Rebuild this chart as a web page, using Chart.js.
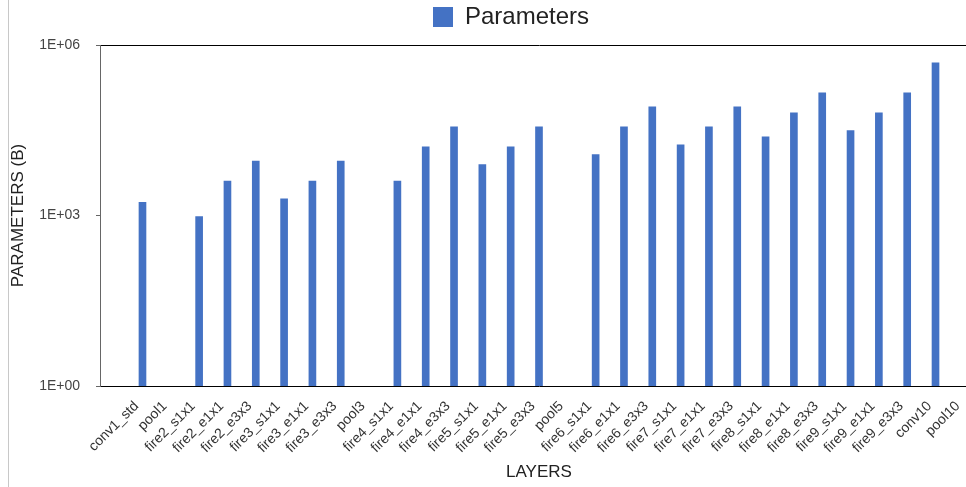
<!DOCTYPE html>
<html>
<head>
<meta charset="utf-8">
<script src="https://cdn.jsdelivr.net/npm/chart.js@4"></script>
<style>
  html, body { margin: 0; padding: 0; background: #fff; overflow: hidden; width: 966px; height: 487px; }
  #wrap { position: absolute; left: 0; top: 0; width: 1022px; height: 487px; }
  #frame { position: absolute; left: 8px; top: 0; width: 1px; height: 487px; background: #c8c8c8; }
</style>
</head>
<body>
<div id="wrap"><canvas id="c" width="1022" height="487"></canvas></div>
<div id="frame"></div>
<script>
const categories = ["", "conv1_std", "pool1", "fire2_s1x1", "fire2_e1x1", "fire2_e3x3",
  "fire3_s1x1", "fire3_e1x1", "fire3_e3x3", "pool3", "fire4_s1x1", "fire4_e1x1", "fire4_e3x3",
  "fire5_s1x1", "fire5_e1x1", "fire5_e3x3", "pool5", "fire6_s1x1", "fire6_e1x1", "fire6_e3x3",
  "fire7_s1x1", "fire7_e1x1", "fire7_e3x3", "fire8_s1x1", "fire8_e1x1", "fire8_e3x3",
  "fire9_s1x1", "fire9_e1x1", "fire9_e3x3", "conv10", "pool10"];
const parameters = [null, 1700, null, 960, 4050, 9100,
  1970, 4050, 9100, null, 4050, 16100, 36300,
  7850, 16100, 36300, null, 11800, 36300, 82000,
  17600, 36300, 82000, 24200, 64000, 144000,
  31200, 64000, 144000, 486000, null];
const yTickValues = [1, 1000, 1000000];
const yTickLabels = ["1E+00", "1E+03", "1E+06"];

const FONT = "'Liberation Sans', Arial, sans-serif";

const legendGap = {
  id: 'legendGap',
  beforeInit(chart) {
    const lg = chart.legend;
    if (!lg) return;
    const orig = lg.fit;
    lg.fit = function () { orig.call(this); this.height += 6; };
  }
};

new Chart(document.getElementById('c'), {
  type: 'bar',
  data: {
    labels: categories,
    datasets: [{
      label: 'Parameters',
      data: parameters,
      backgroundColor: '#4472C4',
      borderWidth: 0,
      barThickness: 7
    }]
  },
  plugins: [legendGap],
  options: {
    responsive: false,
    animation: false,
    layout: { padding: 0 },
    plugins: {
      legend: {
        position: 'top',
        labels: {
          boxWidth: 20, boxHeight: 20, padding: 5,
          color: '#222',
          font: { family: FONT, size: 24 }
        }
      },
      tooltip: { enabled: false }
    },
    scales: {
      x: {
        type: 'category',
        grid: { display: false },
        border: { display: true, color: '#000', width: 1 },
        ticks: {
          autoSkip: false, minRotation: 45, maxRotation: 45,
          padding: 4, labelOffset: -6, color: '#333',
          font: { family: FONT, size: 14 }
        },
        title: {
          display: true, text: 'LAYERS', color: '#222',
          font: { family: FONT, size: 17 },
          padding: { top: 0, bottom: 4 }
        },
        afterFit(scale) { scale.height = 101; }
      },
      y: {
        type: 'logarithmic',
        min: 1, max: 1000000,
        afterBuildTicks(scale) { scale.ticks = yTickValues.map(v => ({ value: v })); },
        grid: {
          color: ctx => (ctx.tick && ctx.tick.value === 1000000) ? '#000' : 'rgba(0,0,0,0)',
          tickColor: '#666',
          tickLength: 4,
          lineWidth: 1
        },
        border: { display: true, color: '#666', width: 1 },
        ticks: {
          padding: 16, color: '#444',
          font: { family: FONT, size: 14 },
          callback: (v) => { const i = yTickValues.indexOf(v); return i >= 0 ? yTickLabels[i] : ''; }
        },
        title: {
          display: true, text: 'PARAMETERS (B)', color: '#222',
          font: { family: FONT, size: 17 },
          padding: { top: 8, bottom: 0 }
        },
        afterFit(scale) { scale.width = 100; }
      },
      yRightSpace: {
        type: 'linear',
        position: 'right',
        display: true,
        grid: { display: false, drawOnChartArea: false },
        border: { display: false },
        ticks: { display: false },
        afterFit(scale) { scale.width = 44; }
      }
    }
  }
});
</script>
</body>
</html>
